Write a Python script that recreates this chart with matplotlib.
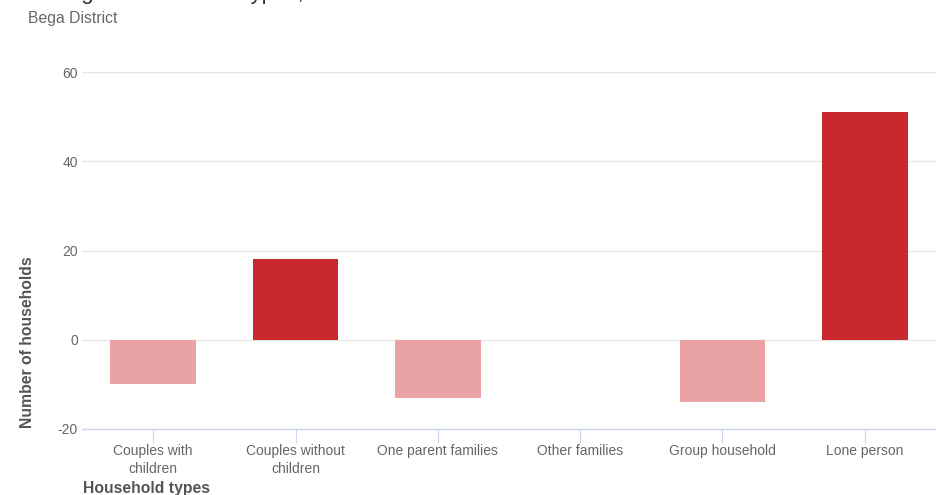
import matplotlib
matplotlib.use("Agg")
import matplotlib.pyplot as plt

# values
categories = ["Couples with\nchildren", "Couples without\nchildren", "One parent families",
              "Other families", "Group household", "Lone person"]
changes = [-10, 18, -13, 0, -14, 51]
y_ticks = [-20, 0, 20, 40, 60]

plt.rcParams['font.family'] = ['Liberation Sans', 'DejaVu Sans']

W, H = 936, 495
fig = plt.figure(figsize=(W / 100, H / 100), dpi=100)
# plot area in pixels: left 82, right 936, top 72, bottom 429
ax = fig.add_axes([82 / W, 1 - 429 / H, (936 - 82) / W, (429 - 72) / H])

up_col = '#c9292e'
down_col = '#eaa3a5'
colors = [up_col if v >= 0 else down_col for v in changes]
x = list(range(len(categories)))
ax.bar(x, changes, width=0.6, color=colors, zorder=3)

ax.set_xlim(-0.5, len(categories) - 0.5)
ax.set_ylim(-20, 60)
ax.set_yticks(y_ticks)
ax.set_yticklabels([str(t) for t in y_ticks])
ax.grid(axis='y', color='#e6e6e6', linewidth=1, zorder=0)
ax.set_xticks(x)
ax.set_xticklabels(categories, fontsize=10, color='#666666', linespacing=1.3)

for s in ['top', 'right', 'left']:
    ax.spines[s].set_visible(False)
ax.spines['bottom'].set_color('#ccd6eb')
ax.spines['bottom'].set_linewidth(1)
ax.tick_params(axis='x', length=10, color='#ccd6eb', pad=1)
ax.tick_params(axis='y', length=0, labelsize=10, labelcolor='#666666', pad=3)

# title is clipped at the top of the image; only its lower part shows
fig.text(28 / W, 1 + 1 / H, "Change in household types, 2016 to 2021", fontsize=16,
         color='#333333', ha='left', va='baseline')
fig.text(28 / W, 1 - 19 / H, "Bega District", fontsize=11.3, color='#666666', ha='left', va='center')
fig.text(28 / W, 1 - 428 / H, "Number of households", rotation=90, fontsize=11.3,
         fontweight='bold', color='#555555', ha='center', va='bottom')
fig.text(83 / W, 1 - 488 / H, "Household types", fontsize=11.3, fontweight='bold',
         color='#555555', ha='left', va='center')

fig.savefig('out.png', dpi=100)
